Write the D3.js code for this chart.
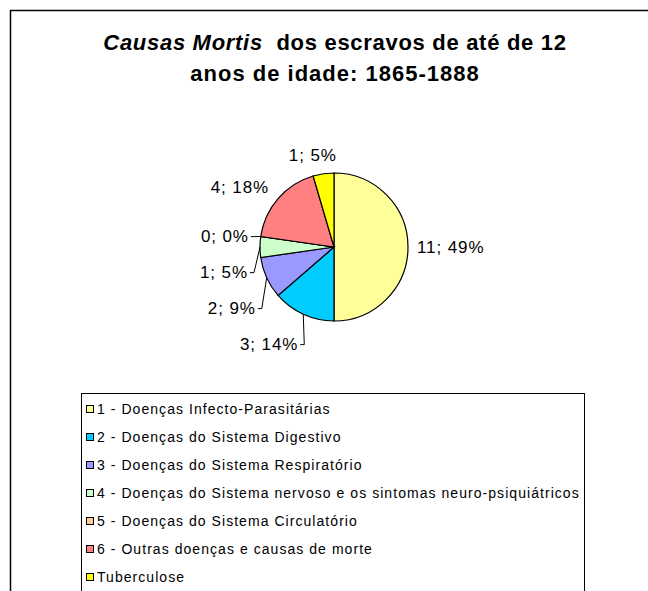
<!DOCTYPE html>
<html>
<head>
<meta charset="utf-8">
<script src="https://cdn.jsdelivr.net/npm/d3@7"></script>
<style>
  body { margin: 0; background: #fff; }
  svg text { font-family: "Liberation Sans", Arial, sans-serif; fill: #000; }
</style>
</head>
<body>
<div id="chart"></div>
<script>
// data
var categories = [
  "1 - Doenças Infecto-Parasitárias",
  "2 - Doenças do Sistema Digestivo",
  "3 - Doenças do Sistema Respiratório",
  "4 - Doenças do Sistema nervoso e os sintomas neuro-psiquiátricos",
  "5 - Doenças do Sistema Circulatório",
  "6 - Outras doenças e causas de morte",
  "Tuberculose"
];
var counts = [11, 3, 2, 1, 0, 4, 1];
var percentLabels = ["49%", "14%", "9%", "5%", "0%", "18%", "5%"];
var colors = ["#FFFF99", "#00CCFF", "#9999FF", "#CCFFCC", "#FFCC99", "#FF8080", "#FFFF00"];

var width = 648, height = 591;
var cx = 334, cy = 247, r = 74;

var svg = d3.select("#chart").append("svg")
    .attr("width", width)
    .attr("height", height);

// outer chart area border (runs past the right and bottom edges)
svg.append("rect")
    .attr("x", 10.5).attr("y", 10.5)
    .attr("width", width + 20).attr("height", height + 20)
    .attr("fill", "#fff")
    .attr("stroke", "#000")
    .attr("stroke-width", 1.5);

// title (Excel draws it a little wide, hence the letter spacing)
var title = svg.append("text")
    .attr("x", 335).attr("y", 50)
    .attr("text-anchor", "middle")
    .style("font-size", "22px")
    .style("font-weight", "bold")
    .style("letter-spacing", "0.7px");
title.append("tspan").style("font-style", "italic").text("Causas Mortis");
title.append("tspan").text("\u00a0 dos escravos de até de 12");
svg.append("text")
    .attr("x", 335).attr("y", 81)
    .attr("text-anchor", "middle")
    .style("font-size", "22px")
    .style("font-weight", "bold")
    .style("letter-spacing", "1px")
    .text("anos de idade: 1865-1888");

// pie
var pie = d3.pie().sort(null).value(function (d) { return d; });
var arcs = pie(counts);
var arc = d3.arc().innerRadius(0).outerRadius(r);

var g = svg.append("g").attr("transform", "translate(" + cx + "," + cy + ")");

g.selectAll("path.slice")
    .data(arcs)
    .enter()
    .append("path")
    .attr("class", "slice")
    .attr("d", arc)
    .attr("fill", function (d, i) { return colors[i]; })
    .attr("stroke", "#000")
    .attr("stroke-width", 1.2);

// labels: place just outside the slice, then push left-hand labels down so they don't overlap
var labels = arcs.map(function (d, i) {
    var a = (d.startAngle + d.endAngle) / 2;
    var s = Math.sin(a), c = -Math.cos(a);
    return {
        i: i, a: a,
        x: s * (r + 12),
        y0: c * (r + 20),
        y: c * (r + 20),
        side: Math.abs(s) < 0.3 ? "middle" : (s < 0 ? "end" : "start"),
        text: counts[i] + "; " + percentLabels[i]
    };
});
var left = labels.filter(function (l) { return l.side === "end"; })
    .sort(function (a, b) { return a.y - b.y; });
for (var k = 1; k < left.length; k++) {
    left[k].y = Math.max(left[k].y, left[k - 1].y + 36);
}

// leader lines for labels moved away from their slice
labels.forEach(function (l) {
    var moved = Math.abs(l.y - l.y0) > 5 || arcs[l.i].value === 0;
    if (l.side === "start") l.x -= 3;
    if (l.side === "middle") { l.x -= 9; l.y += 1; }
    if (l.side === "end") l.y += 2;
    l.moved = moved;
});
labels.filter(function (l) { return l.moved; }).forEach(function (l) {
    var px = Math.sin(l.a) * r, py = -Math.cos(l.a) * r;
    g.append("polyline")
        .attr("points", [[l.x + 2, l.y + 1], [l.x + 6, l.y + 1], [px, py]].join(" "))
        .attr("fill", "none")
        .attr("stroke", "#000")
        .attr("stroke-width", 1);
});

g.selectAll("text.label")
    .data(labels)
    .enter()
    .append("text")
    .attr("class", "label")
    .attr("x", function (d) { return d.x; })
    .attr("y", function (d) { return d.y; })
    .attr("dy", "0.35em")
    .attr("text-anchor", function (d) { return d.side; })
    .style("font-size", "17px")
    .style("letter-spacing", "0.9px")
    .text(function (d) { return d.text; });

// legend
var legend = svg.append("g");
legend.append("rect")
    .attr("x", 81.5).attr("y", 393.5)
    .attr("width", 503).attr("height", 220)
    .attr("fill", "#fff")
    .attr("stroke", "#000")
    .attr("stroke-width", 1);

var row = d3.scalePoint()
    .domain(categories)
    .range([409, 577]);

var item = legend.selectAll("g.item")
    .data(categories)
    .enter()
    .append("g")
    .attr("class", "item")
    .attr("transform", function (d) { return "translate(86," + row(d) + ")"; });

item.append("rect")
    .attr("x", 0.5).attr("y", -3.5)
    .attr("width", 7).attr("height", 7)
    .attr("fill", function (d, i) { return colors[i]; })
    .attr("stroke", "#000")
    .attr("stroke-width", 1);

item.append("text")
    .attr("x", 11)
    .attr("dy", "0.35em")
    .style("font-size", "14px")
    .style("letter-spacing", "1.05px")
    .text(function (d) { return d; });
</script>
</body>
</html>
